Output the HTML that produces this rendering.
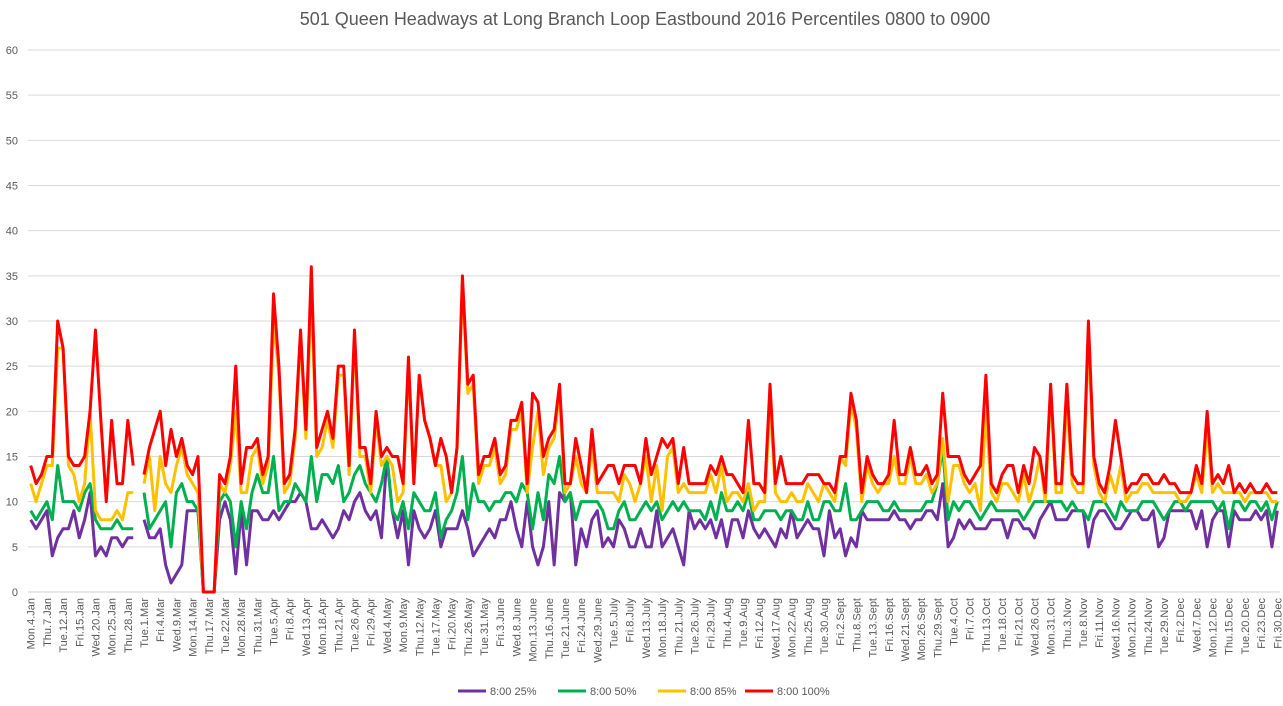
<!DOCTYPE html>
<html><head><meta charset="utf-8"><style>
html,body{margin:0;padding:0;background:#fff;}
svg{display:block;font-family:"Liberation Sans",sans-serif;}
</style></head><body>
<svg id="chart" width="1283" height="706" viewBox="0 0 1283 706" xmlns="http://www.w3.org/2000/svg">
<text x="645" y="25" text-anchor="middle" font-size="18" fill="#595959">501 Queen Headways at Long Branch Loop Eastbound 2016 Percentiles 0800 to 0900</text>
<g id="grid"></g>
<g id="ylabels"></g>
<g id="xlabels"></g>
<g id="series"></g>
<g id="legend"></g>
</svg>
<script>
const yTicks=[0,5,10,15,20,25,30,35,40,45,50,55,60];
const monthNames=["Jan","Feb","Mar","Apr","May","June","July","Aug","Sept","Oct","Nov","Dec"];
const dayNames=["Sun","Mon","Tue","Wed","Thu","Fri","Sat"];
const excludedDates=["2016-03-25","2016-05-23","2016-07-01","2016-08-01","2016-09-05","2016-10-10","2016-12-26","2016-12-27"];
const seriesNames=["8:00 25%","8:00 50%","8:00 85%","8:00 100%"];
const seriesColors=["#7030A0","#00B050","#FFC000","#FF0000"];
const p25=[8,7,8,9,4,6,7,7,9,6,8,11,4,5,4,6,6,5,6,6,null,8,6,6,7,3,1,2,3,9,9,9,0,0,0,8,10,
8,2,9,3,9,9,8,8,9,8,9,10,10,11,10,7,7,8,7,6,7,9,8,10,11,9,8,9,6,15,9,6,9,3,9,7,6,7,9,
5,7,7,7,9,7,4,5,6,7,6,8,8,10,7,5,10,5,3,5,10,3,11,10,11,3,7,5,8,9,5,6,5,8,7,5,5,7,5,
5,9,5,6,7,5,3,9,7,8,7,8,6,8,5,8,8,6,9,7,6,7,6,5,7,6,9,6,7,8,7,7,4,9,6,7,4,6,5,
9,8,8,8,8,8,9,8,8,7,8,8,9,9,8,12,5,6,8,7,8,7,7,7,8,8,8,6,8,8,7,7,6,8,9,10,8,8,
8,9,9,9,5,8,9,9,8,7,7,8,9,9,8,8,9,5,6,9,9,9,9,9,7,9,5,8,9,9,5,9,8,8,8,9,8,9,5,9];
const p50=[9,8,9,10,8,14,10,10,10,9,11,12,8,7,7,7,8,7,7,7,null,11,7,8,9,10,5,11,12,10,10,9,0,0,0,10,11,
10,5,10,7,11,13,11,11,15,9,10,10,12,11,10,15,10,13,13,12,14,10,11,13,14,12,11,10,12,15,9,8,10,7,11,10,9,9,11,
6,8,9,11,15,8,12,10,10,9,10,10,11,11,10,12,11,7,11,8,13,12,15,10,11,8,10,10,10,10,9,7,7,9,10,8,8,9,10,
9,10,8,9,10,9,10,9,9,9,8,10,8,11,9,9,10,9,11,8,8,9,9,9,8,9,9,8,8,10,8,8,10,10,9,9,12,8,8,
9,10,10,10,9,9,10,9,9,9,9,9,10,10,12,16,8,10,9,10,10,9,8,9,10,9,9,9,9,9,8,9,10,10,10,10,10,10,
9,10,9,9,8,10,10,10,9,8,10,9,9,9,10,10,10,9,8,9,10,10,9,10,10,10,10,10,9,10,7,10,10,9,10,10,9,10,8,10];
const p85=[12,10,12,14,14,27,27,14,13,10,12,20,9,8,8,8,9,8,11,11,null,12,15,9,15,12,11,14,16,13,12,11,0,0,0,12,11,
14,20,11,11,15,16,12,14,30,24,11,12,17,28,17,33,15,16,19,16,24,24,13,28,15,15,11,19,14,15,14,10,11,25,12,24,19,17,14,
14,10,11,16,34,22,23,12,14,14,16,12,13,18,18,20,11,16,20,13,16,17,22,11,12,15,12,11,16,11,11,11,11,10,13,12,10,12,15,
10,14,9,15,16,11,12,11,11,11,11,13,11,14,10,11,11,10,12,9,10,10,21,11,10,10,11,10,10,12,11,10,12,11,10,15,14,21,18,
10,14,12,11,12,12,15,12,12,15,12,12,13,11,12,17,10,14,14,12,11,12,9,20,11,10,12,12,11,10,13,10,12,15,10,22,11,11,
21,12,11,11,28,14,11,10,13,11,14,10,11,11,12,12,11,11,11,11,11,10,10,11,13,11,18,11,12,11,11,11,11,10,11,11,11,11,10,10];
const p100=[14,12,13,15,15,30,27,15,14,14,15,20,29,19,10,19,12,12,19,14,null,13,16,18,20,14,18,15,17,14,13,15,0,0,0,13,12,
15,25,12,16,16,17,13,15,33,25,12,13,18,29,18,36,16,18,20,17,25,25,14,29,16,16,12,20,15,16,15,15,12,26,12,24,19,17,14,
17,15,11,16,35,23,24,13,15,15,17,13,14,19,19,21,12,22,21,15,17,18,23,12,12,17,14,11,18,12,13,14,14,12,14,14,14,12,17,
13,15,17,16,17,12,16,12,12,12,12,14,13,15,13,13,12,11,19,12,12,11,23,12,15,12,12,12,12,13,13,13,12,12,11,15,15,22,19,
11,15,13,12,12,13,19,13,13,16,13,13,14,12,13,22,15,15,15,13,12,13,14,24,12,11,13,14,14,11,14,12,16,15,11,23,12,12,
23,13,12,12,30,15,12,11,14,19,15,11,12,12,13,13,12,12,13,12,12,11,11,11,14,12,20,12,13,12,14,11,12,11,12,11,11,12,11,11];
const allSeries=[p25,p50,p85,p100];

// categories: weekdays of 2016 from 4 Jan, Feb only 29th, minus holidays
const categories=[];
(function(){
  let d=new Date(Date.UTC(2016,0,4));
  const end=new Date(Date.UTC(2016,11,30));
  while(d<=end){
    const wd=d.getUTCDay(), m=d.getUTCMonth(), dd=d.getUTCDate();
    const iso=d.toISOString().slice(0,10);
    if(wd>0&&wd<6&&!(m===1&&dd!==29)&&excludedDates.indexOf(iso)<0){
      categories.push(dayNames[wd]+"."+dd+"."+monthNames[m]);
    }
    d=new Date(d.getTime()+86400000);
  }
})();

const NS="http://www.w3.org/2000/svg";
const L=28,R=1280,T=50,B=592,YMAX=60;
const n=categories.length;
const step=(R-L)/n;
function xPos(i){return L+step*(i+0.5);}
function yPos(v){return B-(v/YMAX)*(B-T);}
function mk(tag,attrs,parent){const e=document.createElementNS(NS,tag);for(const k in attrs)e.setAttribute(k,attrs[k]);parent.appendChild(e);return e;}

const grid=document.getElementById('grid'),yl=document.getElementById('ylabels');
yTicks.forEach(t=>{
  const ln=mk('line',{x1:L,x2:R,y1:yPos(t),y2:yPos(t),stroke:t===0?'#d0d0d0':'#d9d9d9','stroke-width':1},grid);
  
  
  const tx=mk('text',{x:18,y:yPos(t)+4,'text-anchor':'end','font-size':11,fill:'#595959'},yl);
  tx.textContent=t;
  
  
});

const xl=document.getElementById('xlabels');
categories.forEach((c,i)=>{
  if(i%3!==0)return;
  const x=xPos(i);
  const tx=mk('text',{x:0,y:0,'text-anchor':'end','font-size':11,fill:'#595959',transform:'translate('+(x+4)+',598) rotate(-90)'},xl);
  tx.textContent=c;
  
  
});

const sg=document.getElementById('series');
allSeries.forEach((s,k)=>{
  let d='',pen=false;
  s.forEach((v,i)=>{
    if(v===null||v===undefined){pen=false;return;}
    d+=(pen?'L':'M')+xPos(i).toFixed(2)+','+yPos(v).toFixed(2);
    pen=true;
  });
  const p=mk('path',{d:d,fill:'none',stroke:seriesColors[k],'stroke-width':3,'stroke-linejoin':'round'},sg);
  
  
});

const lg=document.getElementById('legend');
const lx=[458,558,658,745];
seriesNames.forEach((nm,k)=>{
  const g=mk('g',{},lg);
  
  
  mk('line',{x1:lx[k],x2:lx[k]+28,y1:691,y2:691,stroke:seriesColors[k],'stroke-width':3},g);
  const t=mk('text',{x:lx[k]+32,y:695,'font-size':11,fill:'#595959'},g);
  t.textContent=nm;
});
</script>
</body></html>
